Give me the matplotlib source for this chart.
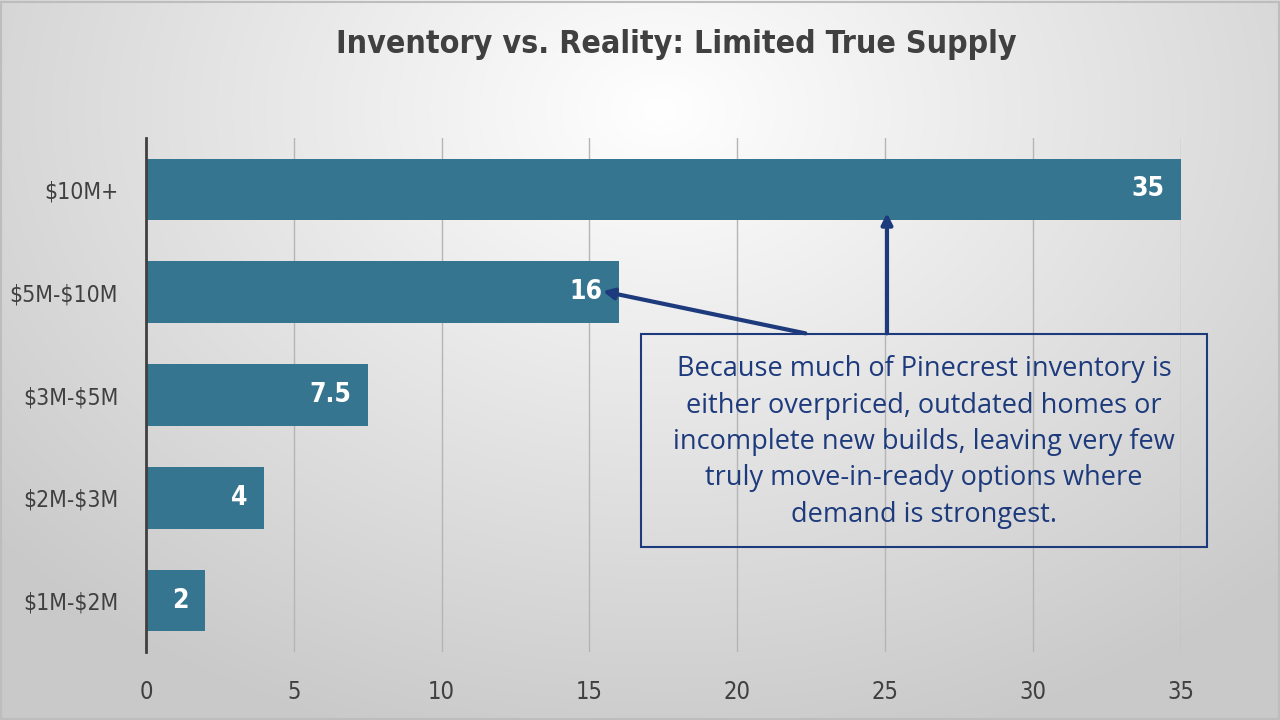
import numpy as np
import matplotlib.pyplot as plt
from matplotlib.patches import Rectangle

# data
categories = ['$1M-$2M', '$2M-$3M', '$3M-$5M', '$5M-$10M', '$10M+']
values = [2, 4, 7.5, 16, 35]
x_ticks = [0, 5, 10, 15, 20, 25, 30, 35]

title = 'Inventory vs. Reality: Limited True Supply'
note = ('Because much of Pinecrest inventory is\n'
        'either overpriced, outdated homes or\n'
        'incomplete new builds, leaving very few\n'
        'truly move-in-ready options where\n'
        'demand is strongest.')

bar_color = '#367590'
navy = '#1d3a7c'
dark = '#404040'
narrow = dict(family='DejaVu Sans', stretch='condensed')

fig = plt.figure(figsize=(12.8, 7.2), dpi=100)

# radial gradient background
bg = fig.add_axes([0, 0, 1, 1], zorder=-5)
yy, xx = np.mgrid[0:720, 0:1280]
r = np.sqrt((xx - 660) ** 2 + ((yy - 110) / 0.75) ** 2)
r = np.clip(r / 880.0, 0, 1)
shade = 1.0 - 0.21 * r
bg.imshow(np.dstack([shade] * 3), aspect='auto', extent=[0, 1, 0, 1],
          origin='upper')
bg.set_xlim(0, 1)
bg.set_ylim(0, 1)
bg.axis('off')
fig.add_artist(Rectangle((0.001, 0.002), 0.998, 0.995, transform=fig.transFigure,
                         fill=False, edgecolor='#bdbdbd', lw=1.5))

ax = fig.add_axes([0.114, 0.0944, 0.8086, 0.7139])
ax.set_facecolor('none')
ypos = np.arange(len(categories))
bars = ax.barh(ypos, values, height=0.6, color=bar_color, zorder=3)
ax.bar_label(bars, labels=['%g' % v for v in values], padding=-12, color='white',
             fontsize=19, fontweight='bold', zorder=4, **narrow)
for t in ax.texts:
    t.set_ha('right')

ax.set_xlim(0, 35)
ax.set_ylim(-0.5, 4.5)
ax.set_yticks(ypos)
ax.set_yticklabels([c.replace('$', r'\$') for c in categories],
                   fontsize=16.5, color=dark, **narrow)
ax.set_xticks(x_ticks)
ax.set_xticklabels([str(t) for t in x_ticks], fontsize=17, color=dark, **narrow)
ax.tick_params(axis='y', length=0, pad=20)
ax.tick_params(axis='x', length=0, pad=20)
ax.grid(axis='x', color='#b5b5b5', lw=1, zorder=0)
for s in ['top', 'right', 'bottom']:
    ax.spines[s].set_visible(False)
ax.spines['left'].set_color(dark)
ax.spines['left'].set_linewidth(2)
ax.spines['left'].set_zorder(5)

fig.text(0.528, 0.938, title, ha='center', va='center', fontsize=23,
         fontweight='bold', color=dark, **narrow)

# callout box
fig.add_artist(Rectangle((0.5008, 0.240), 0.4422, 0.296, transform=fig.transFigure,
                         fill=False, edgecolor=navy, lw=1.5, zorder=6))
fig.text(0.7219, 0.386, note, ha='center', va='center', fontsize=19.5,
         family=['Open Sans', 'DejaVu Sans'], color=navy, linespacing=1.4)

arrow = dict(arrowstyle='-|>', color=navy, lw=3, mutation_scale=16,
             shrinkA=0, shrinkB=0)
ax.annotate('', xy=(15.45, 3.01), xytext=(22.3, 2.60), arrowprops=arrow,
            annotation_clip=False, zorder=7)
ax.annotate('', xy=(25.06, 3.77), xytext=(25.06, 2.60), arrowprops=arrow,
            annotation_clip=False, zorder=7)

fig.savefig('out.png', dpi=100)
